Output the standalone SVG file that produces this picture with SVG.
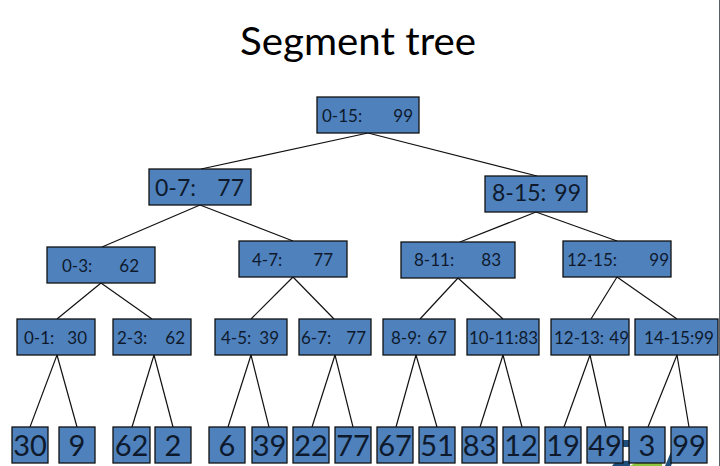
<svg xmlns="http://www.w3.org/2000/svg" width="720" height="466" viewBox="0 0 720 466">
<style>
.box{fill:#4F81BD;stroke:#111;stroke-width:1.3}
.t{font-family:Lato,"Liberation Sans",sans-serif;fill:#0e1a2c}
.title{font-family:Lato,"Liberation Sans",sans-serif;fill:#000;font-size:39px;text-anchor:middle}
.s{font-size:17px}
.m{font-size:23px}
.l{font-size:29px}
.e{text-anchor:end}
.c{text-anchor:middle}
.edge{stroke:#111;stroke-width:1.2;fill:none}
</style>
<rect width="720" height="466" fill="#fff"/>
<line x1="719.5" y1="0" x2="719.5" y2="466" stroke="#5a6068" stroke-width="1"/>
<text class="title" x="358" y="55" textLength="236" lengthAdjust="spacingAndGlyphs">Segment tree</text>

<g id="logo">
<rect x="622" y="440" width="8" height="7" fill="#1d4f7a"/>
<path d="M676,440 L681,440 L671,466 L665,466 Z" fill="#1d4f7a"/>
<path d="M612,466 Q615,460 630,461 L630,466 Z" fill="#1d4f7a"/>
<path d="M630,466 Q640,459 662,462 L662,466 Z" fill="#8cc63f"/>
</g>

<g id="connectors">
<line class="edge" x1="368" y1="133" x2="201" y2="169"/>
<line class="edge" x1="368" y1="133" x2="537" y2="176"/>
<line class="edge" x1="200" y1="205" x2="102" y2="247"/>
<line class="edge" x1="200" y1="205" x2="293" y2="241"/>
<line class="edge" x1="536" y1="212" x2="460" y2="242"/>
<line class="edge" x1="536" y1="212" x2="617" y2="241"/>
<line class="edge" x1="101" y1="283" x2="57" y2="319"/>
<line class="edge" x1="101" y1="283" x2="152" y2="319"/>
<line class="edge" x1="293" y1="277" x2="251" y2="319"/>
<line class="edge" x1="293" y1="277" x2="334" y2="319"/>
<line class="edge" x1="458" y1="278" x2="420" y2="319"/>
<line class="edge" x1="458" y1="278" x2="503" y2="319"/>
<line class="edge" x1="617" y1="277" x2="591" y2="319"/>
<line class="edge" x1="617" y1="277" x2="677" y2="319"/>
<line class="edge" x1="57" y1="355" x2="30" y2="427"/>
<line class="edge" x1="57" y1="355" x2="77" y2="427"/>
<line class="edge" x1="154" y1="355" x2="132" y2="427"/>
<line class="edge" x1="154" y1="355" x2="173" y2="427"/>
<line class="edge" x1="251" y1="355" x2="228" y2="427"/>
<line class="edge" x1="251" y1="355" x2="269" y2="427"/>
<line class="edge" x1="335" y1="355" x2="312" y2="427"/>
<line class="edge" x1="335" y1="355" x2="353" y2="427"/>
<line class="edge" x1="416" y1="355" x2="396" y2="427"/>
<line class="edge" x1="416" y1="355" x2="437" y2="427"/>
<line class="edge" x1="503" y1="355" x2="480" y2="427"/>
<line class="edge" x1="503" y1="355" x2="522" y2="427"/>
<line class="edge" x1="590" y1="355" x2="564" y2="427"/>
<line class="edge" x1="590" y1="355" x2="606" y2="427"/>
<line class="edge" x1="677" y1="355" x2="648" y2="427"/>
<line class="edge" x1="677" y1="355" x2="689" y2="427"/>
</g>

<g id="n0-15"><rect class="box" x="317" y="97" width="102" height="36"/><text class="t s" y="122"><tspan x="322">0-15:</tspan><tspan class="e" x="413">99</tspan></text></g>
<g id="n0-7"><rect class="box" x="149" y="169" width="102" height="36"/><text class="t m" y="196"><tspan x="155">0-7:</tspan><tspan class="e" x="244">77</tspan></text></g>
<g id="n8-15"><rect class="box" x="485" y="176" width="102" height="36"/><text class="t m" y="201"><tspan x="492">8-15:</tspan><tspan class="e" x="581">99</tspan></text></g>

<g id="n0-3"><rect class="box" x="47" y="247" width="108" height="36"/><text class="t s" y="272"><tspan x="62">0-3:</tspan><tspan class="e" x="139">62</tspan></text></g>
<g id="n4-7"><rect class="box" x="239" y="241" width="108" height="36"/><text class="t s" y="266"><tspan x="252">4-7:</tspan><tspan class="e" x="333">77</tspan></text></g>
<g id="n8-11"><rect class="box" x="401" y="242" width="114" height="36"/><text class="t s" y="266"><tspan x="414">8-11:</tspan><tspan class="e" x="501">83</tspan></text></g>
<g id="n12-15"><rect class="box" x="563" y="241" width="108" height="36"/><text class="t s" y="266"><tspan x="567">12-15:</tspan><tspan class="e" x="669">99</tspan></text></g>

<g id="n0-1"><rect class="box" x="17" y="319" width="78" height="36"/><text class="t s" y="344"><tspan x="24">0-1:</tspan><tspan class="e" x="87">30</tspan></text></g>
<g id="n2-3"><rect class="box" x="113" y="319" width="78" height="36"/><text class="t s" y="344"><tspan x="117">2-3:</tspan><tspan class="e" x="185">62</tspan></text></g>
<g id="n4-5"><rect class="box" x="215" y="319" width="72" height="36"/><text class="t s" y="344"><tspan x="221">4-5:</tspan><tspan class="e" x="279">39</tspan></text></g>
<g id="n6-7"><rect class="box" x="299" y="319" width="72" height="36"/><text class="t s" y="344"><tspan x="301">6-7:</tspan><tspan class="e" x="366">77</tspan></text></g>
<g id="n8-9"><rect class="box" x="383" y="319" width="72" height="36"/><text class="t s" y="344"><tspan x="391">8-9:</tspan><tspan class="e" x="447">67</tspan></text></g>
<g id="n10-11"><rect class="box" x="467" y="319" width="72" height="36"/><text class="t s" x="469" y="344" textLength="69" lengthAdjust="spacingAndGlyphs">10-11:83</text></g>
<g id="n12-13"><rect class="box" x="551" y="319" width="78" height="36"/><text class="t s" y="344"><tspan x="554">12-13:</tspan><tspan class="e" x="629">49</tspan></text></g>
<g id="n14-15"><rect class="box" x="635" y="319" width="83" height="36"/><text class="t s" x="644" y="344" textLength="70" lengthAdjust="spacingAndGlyphs">14-15:99</text></g>

<g id="leaf0"><rect class="box" x="12" y="427" width="36" height="36"/><text class="t l c" x="30" y="456">30</text></g>
<g id="leaf1"><rect class="box" x="59" y="427" width="36" height="36"/><text class="t l c" x="77" y="456">9</text></g>
<g id="leaf2"><rect class="box" x="113" y="427" width="37" height="36"/><text class="t l c" x="131.5" y="456">62</text></g>
<g id="leaf3"><rect class="box" x="155" y="427" width="36" height="36"/><text class="t l c" x="173" y="456">2</text></g>
<g id="leaf4"><rect class="box" x="209" y="427" width="36" height="36"/><text class="t l c" x="227" y="456">6</text></g>
<g id="leaf5"><rect class="box" x="252" y="427" width="35" height="36"/><text class="t l c" x="269.5" y="456">39</text></g>
<g id="leaf6"><rect class="box" x="293" y="427" width="36" height="36"/><text class="t l c" x="311" y="456">22</text></g>
<g id="leaf7"><rect class="box" x="335" y="427" width="36" height="36"/><text class="t l c" x="353" y="456">77</text></g>
<g id="leaf8"><rect class="box" x="377" y="427" width="36" height="36"/><text class="t l c" x="395" y="456">67</text></g>
<g id="leaf9"><rect class="box" x="419" y="427" width="36" height="36"/><text class="t l c" x="437" y="456">51</text></g>
<g id="leaf10"><rect class="box" x="462" y="427" width="35" height="36"/><text class="t l c" x="479.5" y="456">83</text></g>
<g id="leaf11"><rect class="box" x="503" y="427" width="36" height="36"/><text class="t l c" x="521" y="456">12</text></g>
<g id="leaf12"><rect class="box" x="545" y="427" width="36" height="36"/><text class="t l c" x="563" y="456">19</text></g>
<g id="leaf13"><rect class="box" x="587" y="427" width="36" height="36"/><text class="t l c" x="605" y="456">49</text></g>
<g id="leaf14"><rect class="box" x="629" y="427" width="36" height="36"/><text class="t l c" x="647" y="456">3</text></g>
<g id="leaf15"><rect class="box" x="671" y="427" width="36" height="36"/><text class="t l c" x="689" y="456">99</text></g>
</svg>
